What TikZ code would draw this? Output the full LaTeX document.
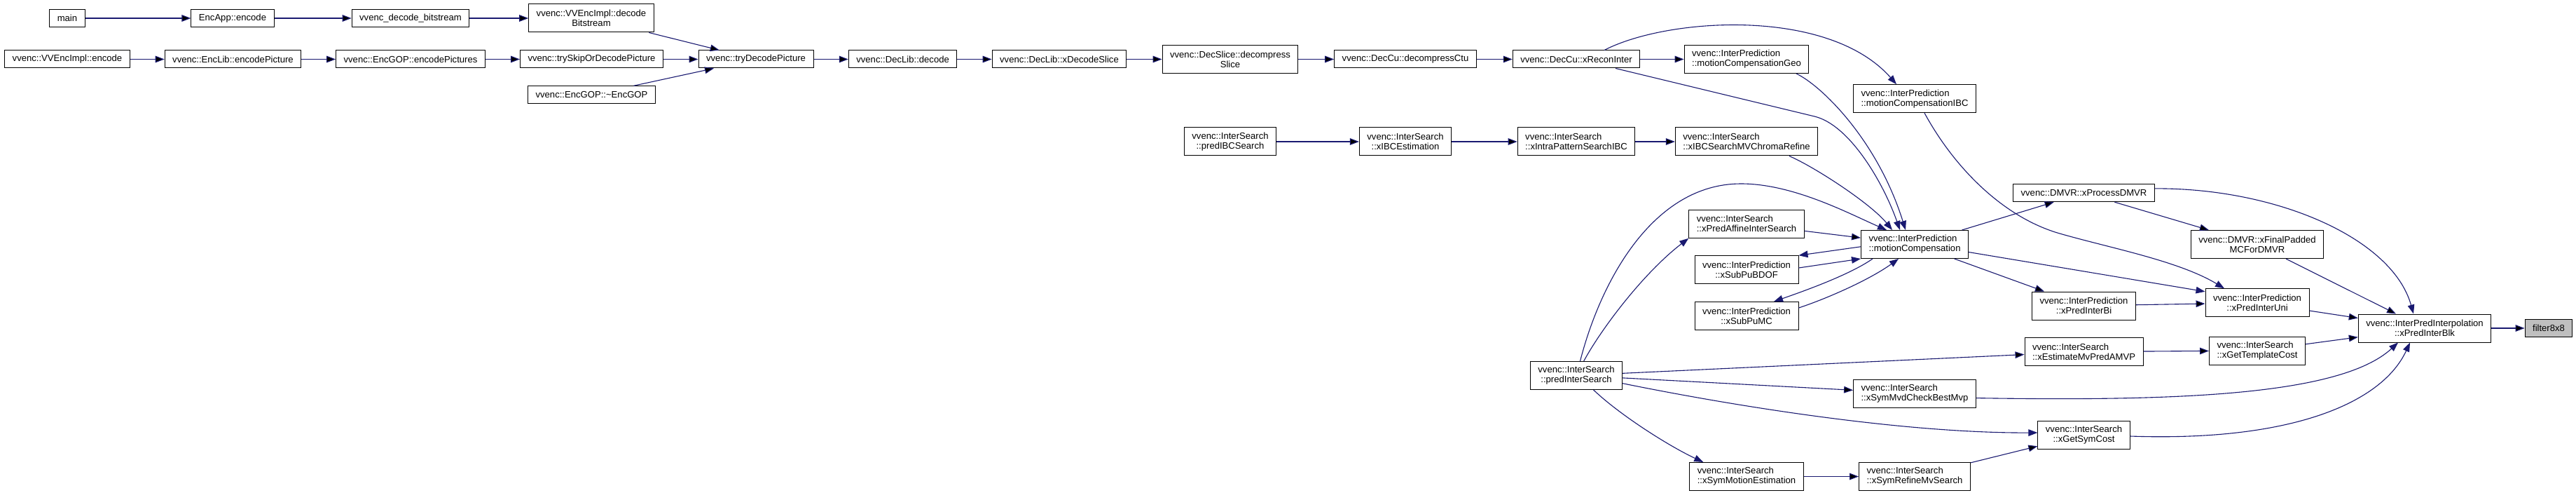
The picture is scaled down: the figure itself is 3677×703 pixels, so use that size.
\documentclass[tikz,border=0pt]{standalone}
\usepackage{fontspec}
\setmainfont{Liberation Sans}
\usetikzlibrary{arrows.meta}
\definecolor{edgeblue}{RGB}{25,25,112}
\tikzset{
    fn/.style={
           rectangle,
           draw=black, line width=1pt,
           fill=white,
           minimum height=25pt,
           inner xsep=11pt, inner ysep=2pt,
           align=center,
           font=\fontsize{13.1}{14}\selectfont
           },
    dbl/.style={
           minimum height=40pt
           },
    lft/.style={
           align=left
           },
    leaf/.style={
           fn,
           fill=black!25
           },
    calls/.style={
           ->,
           draw=edgeblue,
           line width=1.1pt
           }
}
\begin{document}
\begin{tikzpicture}[x=1pt, y=-1pt, >={Triangle[length=13pt,width=9.6pt]}]
\useasboundingbox (0,0) rectangle (3677,703);
% callers, left to right
   \node[fn] (main) at (96,26) {main};
   \node[fn] (appEncode) at (332,26) {EncApp::encode};
   \node[fn] (decBitstream) at (586,26) {vvenc\_decode\_bitstream};
   \node[fn,dbl] (implDecode) at (844,26) {vvenc::VVEncImpl::decode\\Bitstream};
   \node[fn] (implEncode) at (96,84.5) {vvenc::VVEncImpl::encode};
   \node[fn] (encPicture) at (332.5,84.5) {vvenc::EncLib::encodePicture};
   \node[fn] (encPictures) at (586,84.5) {vvenc::EncGOP::encodePictures};
   \node[fn] (trySkip) at (844.5,84.5) {vvenc::trySkipOrDecodePicture};
   \node[fn] (gopDtor) at (844.5,135.3) {vvenc::EncGOP::\textasciitilde EncGOP};
   \node[fn] (tryDecode) at (1079,84.5) {vvenc::tryDecodePicture};
   \node[fn] (libDecode) at (1288.6,84.5) {vvenc::DecLib::decode};
   \node[fn] (decodeSlice) at (1512,84.5) {vvenc::DecLib::xDecodeSlice};
   \node[fn,dbl] (decompSlice) at (1756,84.5) {vvenc::DecSlice::decompress\\Slice};
   \node[fn] (decompCtu) at (2006,84.5) {vvenc::DecCu::decompressCtu};
   \node[fn] (reconInter) at (2250,84.5) {vvenc::DecCu::xReconInter};
   \node[fn,dbl,lft] (mcGeo) at (2493,84.5) {vvenc::InterPrediction\\::motionCompensationGeo};
   \node[fn,dbl,lft] (mcIBC) at (2733,140.7) {vvenc::InterPrediction\\::motionCompensationIBC};
   \node[fn,dbl] (predIBC) at (1756,202) {vvenc::InterSearch\\::predIBCSearch};
   \node[fn,dbl] (ibcEst) at (2006,202) {vvenc::InterSearch\\::xIBCEstimation};
   \node[fn,dbl,lft] (patternIBC) at (2250,202) {vvenc::InterSearch\\::xIntraPatternSearchIBC};
   \node[fn,dbl,lft] (chromaRefine) at (2493,202) {vvenc::InterSearch\\::xIBCSearchMVChromaRefine};
   \node[fn] (procDMVR) at (2974.5,275.2) {vvenc::DMVR::xProcessDMVR};
   \node[fn,dbl,lft] (affine) at (2493,319.3) {vvenc::InterSearch\\::xPredAffineInterSearch};
   \node[fn,dbl,lft] (mc) at (2733,348.5) {vvenc::InterPrediction\\::motionCompensation};
   \node[fn,dbl] (padded) at (3222,348.6) {vvenc::DMVR::xFinalPadded\\MCForDMVR};
   \node[fn,dbl] (bdof) at (2493,384.7) {vvenc::InterPrediction\\::xSubPuBDOF};
   \node[fn,dbl] (subMC) at (2493,450.5) {vvenc::InterPrediction\\::xSubPuMC};
   \node[fn,dbl] (interBi) at (2974.5,436) {vvenc::InterPrediction\\::xPredInterBi};
   \node[fn,dbl] (interUni) at (3222,431.8) {vvenc::InterPrediction\\::xPredInterUni};
   \node[fn,dbl] (interBlk) at (3461,468) {vvenc::InterPredInterpolation\\::xPredInterBlk};
   \node[leaf] (filter) at (3638,468) {filter8x8};
   \node[fn,dbl,lft] (mvpAMVP) at (2974.5,501.6) {vvenc::InterSearch\\::xEstimateMvPredAMVP};
   \node[fn,dbl,lft] (templCost) at (3222,500) {vvenc::InterSearch\\::xGetTemplateCost};
   \node[fn,dbl] (predInter) at (2250,535.4) {vvenc::InterSearch\\::predInterSearch};
   \node[fn,dbl,lft] (symMvd) at (2733,561) {vvenc::InterSearch\\::xSymMvdCheckBestMvp};
   \node[fn,dbl] (symCost) at (2974.5,620) {vvenc::InterSearch\\::xGetSymCost};
   \node[fn,dbl,lft] (symME) at (2493,679.5) {vvenc::InterSearch\\::xSymMotionEstimation};
   \node[fn,dbl,lft] (symRefine) at (2733,679.5) {vvenc::InterSearch\\::xSymRefineMvSearch};
% straight calls
   \path[calls]
    (main) edge (appEncode)
    (appEncode) edge (decBitstream)
    (decBitstream) edge (implDecode)
    (implEncode) edge (encPicture)
    (encPicture) edge (encPictures)
    (encPictures) edge (trySkip)
    (implDecode) edge (tryDecode)
    (trySkip) edge (tryDecode)
    (gopDtor) edge (tryDecode)
    (tryDecode) edge (libDecode)
    (libDecode) edge (decodeSlice)
    (decodeSlice) edge (decompSlice)
    (decompSlice) edge (decompCtu)
    (decompCtu) edge (reconInter)
    (reconInter) edge (mcGeo)
    (predIBC) edge (ibcEst)
    (ibcEst) edge (patternIBC)
    (patternIBC) edge (chromaRefine)
    (affine) edge (mc)
    (mc) edge (procDMVR)
    (mc) edge (interBi)
    (procDMVR) edge (padded)
    (padded) edge (interBlk)
    (interBi) edge (interUni)
    (interUni) edge (interBlk)
    (interBlk) edge (filter)
    (mvpAMVP) edge (templCost)
    (templCost) edge (interBlk)
    (predInter) edge (mvpAMVP)
    (predInter) edge (symMvd)
    (symME) edge (symRefine)
    (symRefine) edge (symCost);
% curved calls
   \draw[calls] ([xshift=40pt]reconInter.north) .. controls (2380,25) and (2610,10) .. ([xshift=-26pt]mcIBC.north);
   \draw[calls] ([xshift=56pt]reconInter.south) -- (2590,166) .. controls (2640,178) and (2688,260) .. ([xshift=-21pt]mc.north);
   \draw[calls] ([xshift=71pt]mcGeo.south) .. controls (2600,122) and (2680,200) .. ([xshift=-13pt]mc.north);
   \draw[calls] ([xshift=61pt]chromaRefine.south) .. controls (2590,238) and (2670,290) .. ([xshift=-32pt]mc.north);
   \draw[calls] ([xshift=5.5pt]predInter.north) .. controls (2285,400) and (2360,262) .. (2485,262) .. controls (2560,262) and (2640,305) .. ([xshift=-40pt]mc.north);
   \draw[calls] ([xshift=10.7pt]predInter.north) .. controls (2285,470) and (2345,390) .. (affine.south west);
   \draw[calls] ([yshift=-3.3pt]mc.west) -- (bdof.north east);
   \draw[calls] ([yshift=2.7pt]bdof.east) -- (mc.south west);
   \draw[calls] ([xshift=-60pt]mc.south) .. controls (2640,392) and (2575,415) .. ([xshift=39pt]subMC.north);
   \draw[calls] ([yshift=11.5pt]subMC.east) .. controls (2610,425) and (2670,398) .. ([xshift=-23pt]mc.south);
   \draw[calls] ([yshift=-11pt]mc.east) -- ([yshift=16pt]interUni.west);
   \draw[calls] ([xshift=14pt]mcIBC.south) .. controls (2790,240) and (2860,310) .. (2940,333) .. controls (3012,353.7) and (3110,372) .. ([xshift=-47pt]interUni.north);
   \draw[calls] ([yshift=6.3pt]procDMVR.east) .. controls (3250,268) and (3415,340) .. ([xshift=-16pt]interBlk.north);
   \draw[calls] ([yshift=-6.6pt]symMvd.east) .. controls (3100,572) and (3340,565) .. ([xshift=-38pt]interBlk.south);
   \draw[calls] ([yshift=-2pt]symCost.east) .. controls (3270,630) and (3400,575) .. ([xshift=-21pt]interBlk.south);
   \draw[calls] ([yshift=-11.3pt]predInter.east) .. controls (2480,580) and (2720,618) .. ([yshift=3pt]symCost.west);
   \draw[calls] ([xshift=24.5pt]predInter.south) .. controls (2310,590) and (2380,635) .. ([xshift=20pt]symME.north west);
\end{tikzpicture}
\end{document}
